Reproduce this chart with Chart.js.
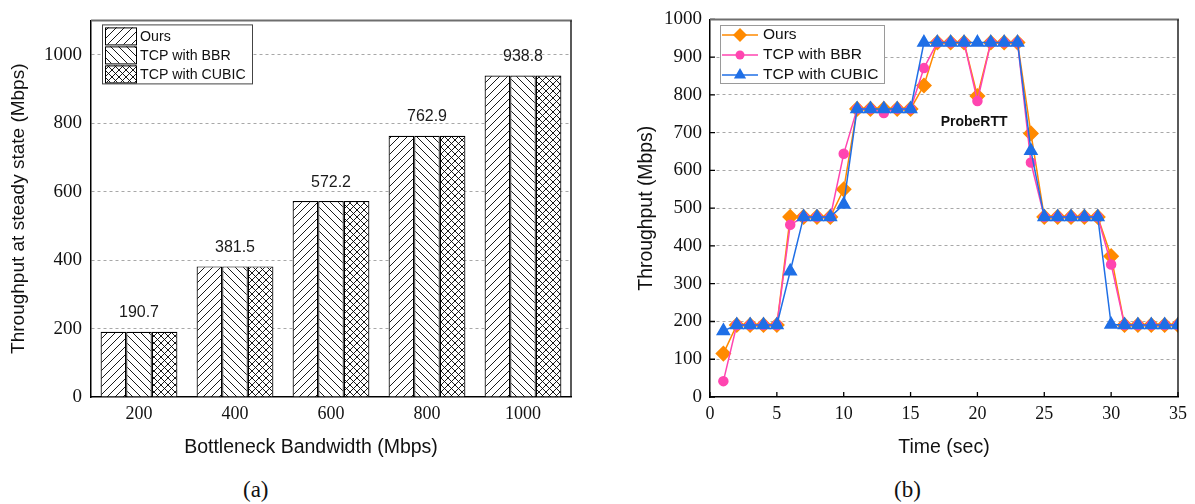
<!DOCTYPE html>
<html>
<head>
<meta charset="utf-8">
<script src="https://cdn.jsdelivr.net/npm/chart.js@4.4.1/dist/chart.umd.min.js"></script>
<style>
  body { margin: 0; background: #fff; width: 1195px; height: 504px; position: relative; overflow: hidden; }
  #barChart { position: absolute; left: 0; top: 0; }
  #lineChart { position: absolute; left: 620px; top: 0; }
  .cap { position: absolute; top: 478px; line-height: 1; font-family: "Liberation Serif", "DejaVu Serif", serif; font-size: 23px; color: #111; }
</style>
</head>
<body>
<canvas id="barChart" width="600" height="470"></canvas>
<canvas id="lineChart" width="575" height="470"></canvas>
<div class="cap" style="left:243px">(a)</div>
<div class="cap" style="left:894px">(b)</div>
<script>
// ---- data: (a) steady state throughput ----
const bandwidths = ["200", "400", "600", "800", "1000"];
const barOurs = [190.7, 381.5, 572.2, 762.9, 938.8];
const barBBR = [190.7, 381.5, 572.2, 762.9, 938.8];
const barCUBIC = [190.7, 381.5, 572.2, 762.9, 938.8];
const barValueLabels = ["190.7", "381.5", "572.2", "762.9", "938.8"];
const barYTicks = [0, 200, 400, 600, 800, 1000];

// ---- data: (b) throughput over time ----
const timeSec = [1, 2, 3, 4, 5, 6, 7, 8, 9, 10, 11, 12, 13, 14, 15, 16, 17, 18, 19, 20,
  21, 22, 23, 24, 25, 26, 27, 28, 29, 30, 31, 32, 33, 34, 35];
const oursSeries = [115, 190.7, 190.7, 190.7, 190.7, 477, 477, 477, 477, 550,
  763, 763, 763, 763, 763, 825, 938.8, 938.8, 938.8, 797,
  938.8, 938.8, 938.8, 698, 477, 477, 477, 477, 477, 373,
  190.7, 190.7, 190.7, 190.7, 190.7];
const bbrSeries = [42, 190.7, 190.7, 190.7, 190.7, 456, 477, 477, 477, 644,
  763, 763, 752, 763, 763, 871, 938.8, 938.8, 938.8, 784,
  938.8, 938.8, 938.8, 621, 477, 477, 477, 477, 477, 351,
  190.7, 190.7, 190.7, 190.7, 190.7];
const cubicSeries = [175, 190.7, 190.7, 190.7, 190.7, 333, 477, 477, 477, 510,
  763, 763, 763, 763, 763, 938.8, 938.8, 938.8, 938.8, 938.8,
  938.8, 938.8, 938.8, 652, 477, 477, 477, 477, 477, 192,
  190.7, 190.7, 190.7, 190.7, 190.7];
const seriesNames = ["Ours", "TCP with BBR", "TCP with CUBIC"];

const SANS = '"Liberation Sans", Arial, sans-serif';
const SERIF = '"Liberation Serif", "Times New Roman", serif';
const GRID = "#a8a8a8";
const ORANGE = "#ff8a00";
const PINK = "#ff45b0";
const BLUE = "#1f6fe6";

// hatch fills for the bars
function hatch(kind) {
  const s = kind === "cross" ? 7 : 8;
  const c = document.createElement("canvas");
  c.width = s; c.height = s;
  const g = c.getContext("2d");
  g.fillStyle = "#fff";
  g.fillRect(0, 0, s, s);
  g.strokeStyle = "#000";
  g.lineWidth = 0.9;
  g.beginPath();
  if (kind === "fwd" || kind === "cross") {
    g.moveTo(-1, s + 1); g.lineTo(s + 1, -1);
    g.moveTo(-1, 1); g.lineTo(1, -1);
    g.moveTo(s - 1, s + 1); g.lineTo(s + 1, s - 1);
  }
  if (kind === "back" || kind === "cross") {
    g.moveTo(-1, -1); g.lineTo(s + 1, s + 1);
    g.moveTo(s - 1, -1); g.lineTo(s + 1, 1);
    g.moveTo(-1, s - 1); g.lineTo(1, s + 1);
  }
  g.stroke();
  return g.createPattern(c, "repeat");
}
const fills = [hatch("fwd"), hatch("back"), hatch("cross")];

// top + right frame lines
const framePlugin = {
  id: "frame",
  afterDraw(chart) {
    const { ctx, chartArea: a } = chart;
    ctx.save();
    ctx.strokeStyle = "#6e6e6e";
    ctx.lineWidth = 2;
    ctx.beginPath(); ctx.moveTo(a.left, a.top); ctx.lineTo(a.right + 1, a.top); ctx.stroke();
    ctx.strokeStyle = "#000";
    ctx.lineWidth = 1.3;
    ctx.beginPath(); ctx.moveTo(a.right, a.top); ctx.lineTo(a.right, a.bottom); ctx.stroke();
    ctx.restore();
  }
};

// value labels, x title + legend for the bar chart
const barExtras = {
  id: "barExtras",
  afterDatasetsDraw(chart) {
    const { ctx, chartArea: a } = chart;
    const mid = chart.getDatasetMeta(1).data;
    ctx.save();
    ctx.font = "16px " + SANS;
    ctx.fillStyle = "#1a1a1a";
    ctx.textAlign = "center";
    ctx.textBaseline = "middle";
    mid.forEach((bar, i) => ctx.fillText(barValueLabels[i], bar.x, bar.y - 19));

    // axis title sits a little left of the plot centre in the original
    ctx.font = "19.5px " + SANS;
    ctx.fillStyle = "#111";
    ctx.fillText("Bottleneck Bandwidth (Mbps)", 311, 448);

    // legend
    const lx = a.left + 11, ly = a.top + 4;
    ctx.fillStyle = "#fff";
    ctx.fillRect(lx, ly, 150, 59);
    ctx.strokeStyle = "#444";
    ctx.lineWidth = 1;
    ctx.strokeRect(lx + 0.5, ly + 0.5, 150, 59);
    ctx.font = "14.2px " + SANS;
    ctx.textAlign = "left";
    seriesNames.forEach((name, i) => {
      const y = ly + 3 + i * 19;
      ctx.fillStyle = fills[i];
      ctx.fillRect(lx + 3, y, 31, 17);
      ctx.strokeStyle = "#000";
      ctx.strokeRect(lx + 3.5, y + 0.5, 31, 17);
      ctx.fillStyle = "#111";
      ctx.fillText(name, lx + 38, y + 9.5);
    });
    ctx.restore();
  }
};

new Chart(document.getElementById("barChart"), {
  type: "bar",
  data: {
    labels: bandwidths,
    datasets: [barOurs, barBBR, barCUBIC].map((d, i) => ({
      label: seriesNames[i],
      data: d,
      backgroundColor: fills[i],
      borderColor: "#000",
      borderWidth: 1.2,
      categoryPercentage: 0.8,
      barPercentage: 1.0
    }))
  },
  options: {
    responsive: false,
    animation: false,
    layout: { padding: { left: 0, right: 29, top: 9, bottom: 0 } },
    plugins: { legend: { display: false }, tooltip: { enabled: false } },
    scales: {
      x: {
        grid: { display: false, drawTicks: false },
        border: { color: "#000", width: 1.5 },
        ticks: { font: { family: SERIF, size: 18 }, color: "#111", padding: 6 },
        afterFit(s) { s.height = 73; }
      },
      y: {
        min: 0, max: 1100,
        afterBuildTicks(s) { s.ticks = barYTicks.map(v => ({ value: v })); },
        grid: { drawTicks: false, color: c => c.tick && c.tick.value === 0 ? "transparent" : GRID, lineWidth: 1 },
        border: { color: "#000", width: 1.5, dash: [3, 3] },
        ticks: { font: { family: SERIF, size: 19 }, color: "#111", padding: 9, callback: v => String(v) },
        title: { display: true, text: "Throughput at steady state (Mbps)", font: { family: SANS, size: 19 }, color: "#111", padding: { top: 7, bottom: 0 } },
        afterFit(s) { s.width = 91; }
      }
    }
  },
  plugins: [framePlugin, barExtras]
});

// inward ticks, annotation and legend for the line chart
function marker(ctx, kind, x, y, color) {
  ctx.fillStyle = color;
  ctx.beginPath();
  if (kind === "diamond") {
    ctx.moveTo(x - 7, y); ctx.lineTo(x, y - 7); ctx.lineTo(x + 7, y); ctx.lineTo(x, y + 7);
  } else if (kind === "circle") {
    ctx.arc(x, y, 4.5, 0, Math.PI * 2);
  } else {
    ctx.moveTo(x, y - 7); ctx.lineTo(x + 6.1, y + 3.5); ctx.lineTo(x - 6.1, y + 3.5);
  }
  ctx.closePath();
  ctx.fill();
}

const lineExtras = {
  id: "lineExtras",
  beforeDatasetsDraw(chart) {
    const { ctx, chartArea: a, scales } = chart;
    ctx.save();
    ctx.strokeStyle = "#000";
    ctx.lineWidth = 1.3;
    ctx.beginPath();
    scales.x.ticks.forEach(t => {
      const px = scales.x.getPixelForValue(t.value);
      ctx.moveTo(px, a.bottom); ctx.lineTo(px, a.bottom - 5);
    });
    scales.y.ticks.forEach(t => {
      const py = scales.y.getPixelForValue(t.value);
      ctx.moveTo(a.left, py); ctx.lineTo(a.left + 5, py);
    });
    ctx.stroke();
    ctx.font = "bold 14px " + SANS;
    ctx.fillStyle = "#111";
    ctx.textAlign = "center";
    ctx.textBaseline = "middle";
    ctx.fillText("ProbeRTT", scales.x.getPixelForValue(19.75), scales.y.getPixelForValue(728));
    ctx.restore();
  },
  afterDraw(chart) {
    const { ctx, chartArea: a } = chart;
    const lx = a.left + 10, ly = 25;
    ctx.save();
    ctx.fillStyle = "#fff";
    ctx.fillRect(lx, ly, 164, 58);
    ctx.strokeStyle = "#9a9a9a";
    ctx.lineWidth = 1;
    ctx.strokeRect(lx + 0.5, ly + 0.5, 164, 58);
    const colors = [ORANGE, PINK, BLUE];
    const kinds = ["diamond", "circle", "triangle"];
    ctx.font = "15.5px " + SANS;
    ctx.textAlign = "left";
    ctx.textBaseline = "middle";
    seriesNames.forEach((name, i) => {
      const y = ly + 10 + i * 20;
      ctx.strokeStyle = colors[i];
      ctx.lineWidth = 1.5;
      ctx.beginPath(); ctx.moveTo(lx + 2, y); ctx.lineTo(lx + 38, y); ctx.stroke();
      marker(ctx, kinds[i], lx + 20, y, colors[i]);
      ctx.fillStyle = "#111";
      ctx.fillText(name, lx + 43, y);
    });
    ctx.restore();
  }
};

const toPoints = arr => arr.map((v, i) => ({ x: timeSec[i], y: v }));

new Chart(document.getElementById("lineChart"), {
  type: "line",
  data: {
    datasets: [
      { label: seriesNames[0], data: toPoints(oursSeries), borderColor: ORANGE, backgroundColor: ORANGE,
        pointStyle: "rectRot", pointRadius: 7, borderWidth: 1.5, order: 3 },
      { label: seriesNames[1], data: toPoints(bbrSeries), borderColor: PINK, backgroundColor: PINK,
        pointStyle: "circle", pointRadius: 4.5, borderWidth: 1.5, order: 2 },
      { label: seriesNames[2], data: toPoints(cubicSeries), borderColor: BLUE, backgroundColor: BLUE,
        pointStyle: "triangle", pointRadius: 7, borderWidth: 1.5, order: 1 }
    ]
  },
  options: {
    responsive: false,
    animation: false,
    layout: { padding: { left: 0, right: 17, top: 19, bottom: 0 } },
    plugins: { legend: { display: false }, tooltip: { enabled: false } },
    elements: { line: { tension: 0 }, point: { borderWidth: 0 } },
    scales: {
      x: {
        type: "linear", min: 0, max: 35,
        ticks: { stepSize: 5, font: { family: SERIF, size: 18 }, color: "#111", padding: 6 },
        grid: { display: false, drawTicks: false },
        border: { color: "#000", width: 1.5 },
        title: { display: true, text: "Time (sec)", font: { family: SANS, size: 19.5 }, color: "#111", padding: { top: 0, bottom: 11 } },
        afterFit(s) { s.height = 73; }
      },
      y: {
        min: 0, max: 1000,
        ticks: { stepSize: 100, font: { family: SERIF, size: 19 }, color: "#111", padding: 8, callback: v => String(v) },
        grid: { drawTicks: false, color: c => c.tick && (c.tick.value === 0 || c.tick.value === 1000) ? "transparent" : GRID },
        border: { color: "#000", width: 1.5, dash: [3, 3] },
        title: { display: true, text: "Throughput (Mbps)", font: { family: SANS, size: 19.4 }, color: "#111", padding: { top: 15, bottom: 0 } },
        afterFit(s) { s.width = 90; }
      }
    }
  },
  plugins: [framePlugin, lineExtras]
});
</script>
</body>
</html>
